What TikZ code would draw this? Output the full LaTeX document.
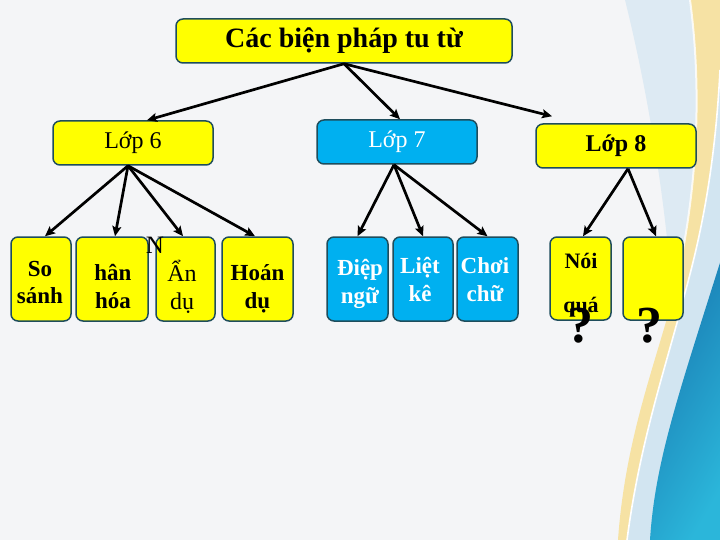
\documentclass[tikz,border=0pt]{standalone}
\usepackage{fontspec}
\setmainfont{Liberation Serif}
\usetikzlibrary{arrows.meta,calc}
\definecolor{ylw}{HTML}{FFFF00}
\definecolor{blu}{HTML}{00B0F0}
\definecolor{bdr}{HTML}{1E4D5C}
\definecolor{bgc}{HTML}{F4F5F7}
\definecolor{tan}{HTML}{F6E2A4}
\definecolor{pale}{HTML}{DDEAF3}
\definecolor{paleb}{HTML}{D2E5F1}
\definecolor{dkb}{HTML}{1877B0}
\definecolor{cyb}{HTML}{2BB6DA}
\newcommand{\twol}[3][0pt]{\begin{tabular}[t]{@{}c@{}}#2\\[#1]#3\end{tabular}}
\begin{document}
\begin{tikzpicture}[x=1pt,y=-1pt,
  box/.style={draw=bdr,line width=1.5pt,rounded corners=7pt,inner sep=0pt,align=center},
  ybox/.style={box,fill=ylw},
  bbox/.style={box,fill=blu,text=white},
  kid/.style={minimum height=84pt},
  ktext/.style={anchor=base,inner sep=0pt,font=\fontsize{23}{28}\selectfont\bfseries},
  lvl/.style={minimum width=160pt,minimum height=44pt,font=\fontsize{24}{26}\selectfont},
  arr/.style={line width=2.7pt,-{Stealth[length=10pt,width=9pt,inset=2pt]}}]
% background
\fill[bgc] (0,0) rectangle (720,540);
\useasboundingbox (0,0) rectangle (720,540);
% swoosh decoration
\fill[pale] (625,0) .. controls (650,100) and (668,220) .. (672,300)
  .. controls (690,230) and (706,120) .. (690,0) -- cycle;
\fill[paleb] (720,70) .. controls (715,170) and (700,240) .. (683,300)
  .. controls (668,360) and (640,440) .. (627,540) -- (720,540) -- cycle;
\fill[tan] (690,0) .. controls (706,120) and (690,230) .. (672,300)
  .. controls (655,365) and (625,440) .. (618,540) -- (627,540)
  .. controls (640,440) and (668,360) .. (683,300)
  .. controls (700,240) and (715,170) .. (720,70) -- (720,0) -- cycle;
\draw[white,line width=1.6pt] (720,70) .. controls (715,170) and (700,240) .. (683,300)
  .. controls (668,360) and (640,440) .. (627,540);
\draw[white,line width=2pt,opacity=0.8] (690,0) .. controls (706,120) and (690,230) .. (672,300);
\shade[left color=dkb,right color=cyb,shading angle=60] (724,250) .. controls (680,390) and (655,460) .. (650,540) -- (720,540) -- (720,250) -- cycle;
% main boxes
\node[ybox,minimum width=336pt,minimum height=44pt,font=\fontsize{28}{30}\selectfont\bfseries] (top) at (344,41) {Các biện pháp tu từ};
\node[ybox,lvl] (l6) at (133,143) {Lớp 6};
\node[bbox,lvl] (l7) at (397,142) {Lớp 7};
\node[ybox,lvl,font=\fontsize{24}{26}\selectfont\bfseries] (l8) at (616,146) {Lớp 8};
% children boxes
\node[ybox,kid,minimum width=60pt] (ss) at (41,279) {};
\node[ybox,kid,minimum width=72pt] (nh) at (112,279) {};
\node[ybox,kid,minimum width=59pt] (ad) at (185.5,279) {};
\node[ybox,kid,minimum width=71pt] (hd) at (257.5,279) {};
\node[bbox,kid,minimum width=61pt] (dn) at (357.5,279) {};
\node[bbox,kid,minimum width=60pt] (lk) at (423,279) {};
\node[bbox,kid,minimum width=61pt] (cc) at (487.5,279) {};
\node[ybox,kid,minimum width=61pt,minimum height=83pt] (nq) at (580.5,278.5) {};
\node[ybox,kid,minimum width=60pt,minimum height=83pt] (em) at (653,278.5) {};
% children texts
\node[ktext] (tss) at (40,276) {\twol{So}{sánh}};
\node[ktext] (tnh) at (113,280) {\twol{hân}{hóa}};
\node[ktext,font=\fontsize{24}{28}\selectfont] (tad) at (182,281.5) {\twol{Ẩn}{dụ}};
\node[ktext] (thd) at (257.5,280) {\twol{Hoán}{dụ}};
\node[ktext,text=white] (tdn) at (360,275) {\twol{Điệp}{ngữ}};
\node[ktext,text=white] (tlk) at (420,273.5) {\twol{Liệt}{kê}};
\node[ktext,text=white] (tcc) at (485,273.5) {\twol{Chơi}{chữ}};
\node[ktext,font=\fontsize{22}{28}\selectfont\bfseries] (tnq) at (581,268) {\twol[16pt]{Nói}{quá}};
% arrows
\draw[arr] (top.south) -- ([xshift=14pt]l6.north);
\draw[arr] (top.south) -- ([xshift=3pt]l7.north);
\draw[arr] (top.south) -- ([xshift=-64pt,yshift=7pt]l8.north);
\draw[arr] ([xshift=-5pt]l6.south) -- ([xshift=4pt]ss.north);
\draw[arr] ([xshift=-5pt]l6.south) -- ([xshift=3pt]nh.north);
\draw[arr] ([xshift=-5pt]l6.south) -- ([xshift=-2.5pt]ad.north);
\draw[arr] ([xshift=-5pt]l6.south) -- ([xshift=-2.5pt]hd.north);
\draw[arr] ([xshift=-3pt]l7.south) -- (dn.north);
\draw[arr] ([xshift=-3pt]l7.south) -- (lk.north);
\draw[arr] ([xshift=-3pt]l7.south) -- (cc.north);
\draw[arr] ([xshift=12pt]l8.south) -- ([xshift=2.5pt]nq.north);
\draw[arr] ([xshift=12pt]l8.south) -- ([xshift=3pt]em.north);
% overlays
\node[anchor=base,inner sep=0pt,font=\fontsize{25}{25}\selectfont] (nn) at (155,253) {N};
\node[anchor=base,inner sep=0pt,font=\fontsize{52}{52}\selectfont\bfseries] (q1) at (580,342) {?};
\node[anchor=base,inner sep=0pt,font=\fontsize{52}{52}\selectfont\bfseries] (q2) at (649,342) {?};
\end{tikzpicture}
\end{document}
